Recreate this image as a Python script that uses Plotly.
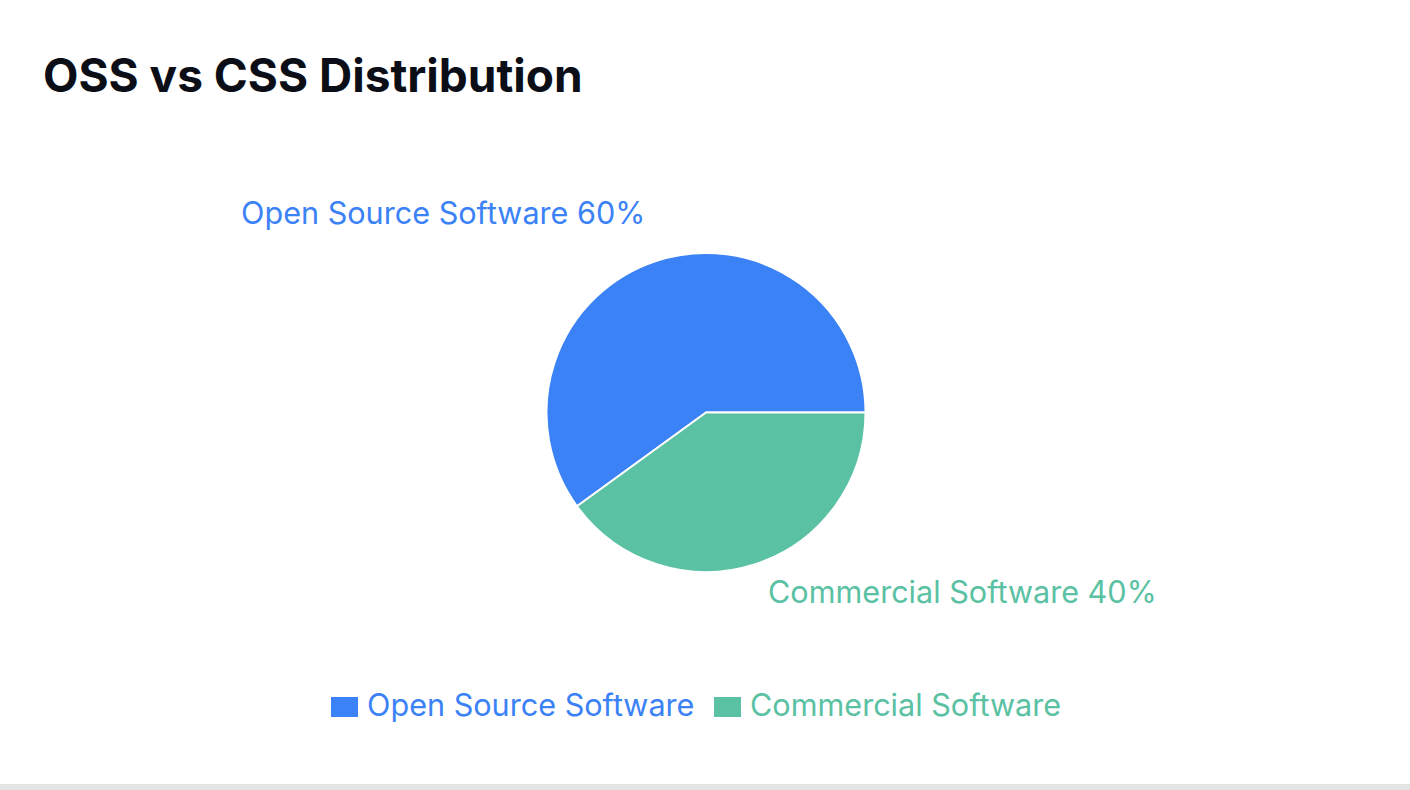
import plotly.graph_objects as go

# ---- data ----
categories = ["Open Source Software", "Commercial Software"]
values = [60, 40]
colors = ["#3B82F6", "#5AC1A3"]
title_text = "OSS vs CSS Distribution"

W, H = 1410, 790
FONT = "Inter, 'Noto Sans', sans-serif"

def px(x):
    return x / W

def py(y):
    return 1 - y / H

total = sum(values)
percents = [round(v / total * 100) for v in values]

# pie geometry (pixels)
cx, cy, r = 706, 412.5, 159.5

fig = go.Figure()
fig.add_trace(go.Pie(
    labels=categories,
    values=values,
    sort=False,
    direction="clockwise",
    rotation=234,
    textinfo="none",
    hoverinfo="label+percent",
    marker=dict(colors=colors, line=dict(color="white", width=2)),
    domain=dict(x=[px(cx - r), px(cx + r)], y=[py(cy + r), py(cy - r)]),
    showlegend=False,
))

annotations = []
shapes = []

# slice labels
label_pos = [(238.5, 212), (765.5, 591)]
for (lx, ly), cat, pct, col in zip(label_pos, categories, percents, colors):
    annotations.append(dict(
        x=px(lx), y=py(ly), xref="paper", yref="paper",
        xanchor="left", yanchor="middle", showarrow=False,
        text=f"{cat} {pct}%",
        font=dict(family=FONT, size=30.6, color=col),
    ))

# custom legend
legend_pos = [331, 714]
for lx, cat, col in zip(legend_pos, categories, colors):
    shapes.append(dict(
        type="rect", xref="paper", yref="paper",
        x0=px(lx), x1=px(lx + 27), y0=py(717), y1=py(697),
        fillcolor=col, line=dict(width=0),
    ))
    annotations.append(dict(
        x=px(lx + 34), y=py(704.5), xref="paper", yref="paper",
        xanchor="left", yanchor="middle", showarrow=False,
        text=cat,
        font=dict(family=FONT, size=30.6, color=col),
    ))

# title
annotations.append(dict(
    x=px(41), y=py(75), xref="paper", yref="paper",
    xanchor="left", yanchor="middle", showarrow=False,
    text=f"<b>{title_text}</b>",
    font=dict(family=FONT, size=46, color="#0B0D17"),
))

# card shadow at bottom
shapes.append(dict(
    type="rect", xref="paper", yref="paper", layer="below",
    x0=0, x1=1, y0=0, y1=py(784),
    fillcolor="#E4E4E4", line=dict(width=0),
))

fig.update_layout(
    width=W, height=H,
    margin=dict(l=0, r=0, t=0, b=0),
    paper_bgcolor="white",
    plot_bgcolor="white",
    annotations=annotations,
    shapes=shapes,
    showlegend=False,
)

fig.write_html(
    "out.html",
    config={"displayModeBar": False},
    post_script="document.body.style.margin='0';document.body.style.overflow='hidden';",
)
